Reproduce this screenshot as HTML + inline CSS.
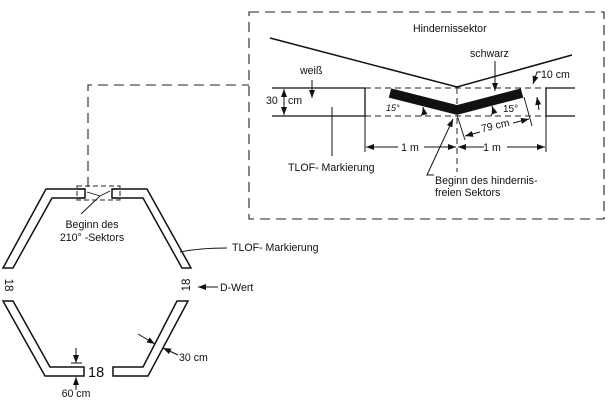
<!DOCTYPE html>
<html><head><meta charset="utf-8"><style>
html,body{margin:0;padding:0;background:#fff;}
svg{display:block;}
text{font-family:"Liberation Sans",Arial,sans-serif;fill:#111;}
</style></head><body>
<svg width="612" height="405" viewBox="0 0 612 405" xmlns="http://www.w3.org/2000/svg">
<defs>
<marker id="ah" markerUnits="userSpaceOnUse" markerWidth="9" markerHeight="6" refX="8" refY="3" orient="auto">
<path d="M0,0 L8,3 L0,6 z" fill="#111"/>
</marker>
</defs>

<!-- detail box -->
<rect x="249" y="12" width="355" height="207" fill="none" stroke="#222" stroke-width="1.1" stroke-dasharray="10 6"/>
<!-- connector -->
<path d="M88,187 V85 H249" fill="none" stroke="#222" stroke-width="1.1" stroke-dasharray="10 6"/>

<!-- hexagon pieces -->
<g fill="#fff" stroke="#111" stroke-width="1.5" stroke-linejoin="miter">
<polygon points="85,189 46,189 3,268 13,268 52,198 85,198"/>
<polygon points="112,189 147,189 191,268 182,268 143,198 112,198"/>
<polygon points="3,301 13,301 50,367 84,367 84,376 45,376"/>
<polygon points="113,367 143,367 177,301 188,301 148,376 113,376"/>
</g>
<rect x="77" y="186" width="43" height="14" fill="none" stroke="#222" stroke-width="1" stroke-dasharray="5 3"/>
<path d="M77,189 H85 M77,198 H85 M112,189 H120 M112,198 H120" stroke="#111" stroke-width="1.3"/>
<!-- leader for Beginn des 210 -->
<path d="M81,214 L100,196 M100,196 L87,192 M100,196 L110,191" fill="none" stroke="#111" stroke-width="0.9"/>
<text x="92" y="228" font-size="10.6" text-anchor="middle">Beginn des</text>
<text x="92" y="241" font-size="10.6" text-anchor="middle">210° -Sektors</text>

<text transform="translate(5,285) rotate(90)" font-size="11.5" text-anchor="middle">18</text>
<text transform="translate(190,285) rotate(-90)" font-size="11.5" text-anchor="middle">18</text>

<path d="M180,252 Q200,248 227,248" fill="none" stroke="#111" stroke-width="0.9"/>
<text x="232" y="251" font-size="10.6">TLOF- Markierung</text>

<line x1="218" y1="287" x2="198" y2="287" stroke="#111" stroke-width="1" marker-end="url(#ah)"/>
<text x="220" y="291" font-size="10.6">D-Wert</text>

<text x="88" y="377" font-size="14.5">18</text>
<!-- 60 cm -->
<line x1="76" y1="348" x2="76" y2="363" stroke="#111" stroke-width="1" marker-end="url(#ah)"/>
<line x1="71" y1="363" x2="82" y2="363" stroke="#111" stroke-width="1"/>
<line x1="76" y1="390" x2="76" y2="377" stroke="#111" stroke-width="1" marker-end="url(#ah)"/>
<text x="76" y="397" font-size="10.6" text-anchor="middle">60 cm</text>
<!-- 30 cm -->
<line x1="138" y1="334" x2="155" y2="344" stroke="#111" stroke-width="1" marker-end="url(#ah)"/>
<line x1="178" y1="355" x2="163" y2="348" stroke="#111" stroke-width="1" marker-end="url(#ah)"/>
<text x="179" y="361" font-size="10.6">30 cm</text>

<!-- ===== detail ===== -->
<text x="413" y="32" font-size="10.6">Hindernissektor</text>
<polyline points="270,38 457,87 572,55" fill="none" stroke="#111" stroke-width="1.5"/>

<path d="M272,88 H365 V116 H272" fill="none" stroke="#111" stroke-width="1.3"/>
<path d="M575,88 H546 V116 H575" fill="none" stroke="#111" stroke-width="1.3"/>
<path d="M365,88 H546 M365,116 H546" fill="none" stroke="#222" stroke-width="1.1" stroke-dasharray="6 4"/>
<line x1="457" y1="88" x2="457" y2="172" stroke="#222" stroke-width="1" stroke-dasharray="6 4"/>

<polyline points="390,93 457,110 522,93" fill="none" stroke="#111" stroke-width="9.5" stroke-linejoin="miter" stroke-miterlimit="10"/>

<text x="300" y="74" font-size="10.6">weiß</text>
<line x1="312" y1="80" x2="312" y2="98" stroke="#111" stroke-width="1" marker-end="url(#ah)"/>

<text x="266" y="104" font-size="10.6">30</text>
<line x1="284" y1="102" x2="284" y2="89" stroke="#111" stroke-width="1" marker-end="url(#ah)"/>
<line x1="284" y1="102" x2="284" y2="115" stroke="#111" stroke-width="1" marker-end="url(#ah)"/>
<text x="288" y="104" font-size="10.6">cm</text>

<line x1="332" y1="107" x2="332" y2="156" stroke="#111" stroke-width="1"/>
<text x="288" y="171" font-size="10.6">TLOF- Markierung</text>

<!-- 1 m dims -->
<path d="M365,116 V152 M546,116 V152" stroke="#111" stroke-width="1"/>
<line x1="398" y1="147" x2="366" y2="147" stroke="#111" stroke-width="1" marker-end="url(#ah)"/>
<text x="410" y="151" font-size="10.6" text-anchor="middle">1 m</text>
<line x1="424" y1="147" x2="456" y2="147" stroke="#111" stroke-width="1" marker-end="url(#ah)"/>
<line x1="484" y1="147" x2="458" y2="147" stroke="#111" stroke-width="1" marker-end="url(#ah)"/>
<text x="492" y="151" font-size="10.6" text-anchor="middle">1 m</text>
<line x1="507" y1="147" x2="545" y2="147" stroke="#111" stroke-width="1" marker-end="url(#ah)"/>

<!-- 79 cm -->
<path d="M457,115 L465,140 M524,97 L532,126" stroke="#111" stroke-width="0.9"/>
<line x1="480" y1="132" x2="465" y2="136" stroke="#111" stroke-width="1" marker-end="url(#ah)"/>
<text transform="translate(496,129) rotate(-13)" font-size="10.6" text-anchor="middle">79 cm</text>
<line x1="513" y1="123" x2="529" y2="119" stroke="#111" stroke-width="1" marker-end="url(#ah)"/>

<!-- 15 deg arcs -->
<path d="M421,116 Q424,112 423,107" fill="none" stroke="#111" stroke-width="1" marker-end="url(#ah)"/>
<text x="386" y="111" font-size="9" font-style="italic">15°</text>
<path d="M491,116 Q494,112 492,106" fill="none" stroke="#111" stroke-width="1" marker-end="url(#ah)"/>
<text x="503" y="112" font-size="10">15°</text>

<!-- schwarz -->
<text x="470" y="57" font-size="10.6">schwarz</text>
<line x1="495" y1="61" x2="495" y2="91" stroke="#111" stroke-width="1" marker-end="url(#ah)"/>

<!-- 10 cm -->
<text x="541" y="78" font-size="10.6">10 cm</text>
<path d="M541,72 H537 L533,84" fill="none" stroke="#111" stroke-width="1" marker-end="url(#ah)"/>
<line x1="539" y1="110" x2="537" y2="97" stroke="#111" stroke-width="1" marker-end="url(#ah)"/>

<!-- Beginn leader -->
<path d="M434,175 H427 L453,119" fill="none" stroke="#111" stroke-width="1" marker-end="url(#ah)"/>
<text x="435" y="184" font-size="10.6">Beginn des hindernis-</text>
<text x="435" y="196" font-size="10.6">freien Sektors</text>
</svg>
</body></html>
